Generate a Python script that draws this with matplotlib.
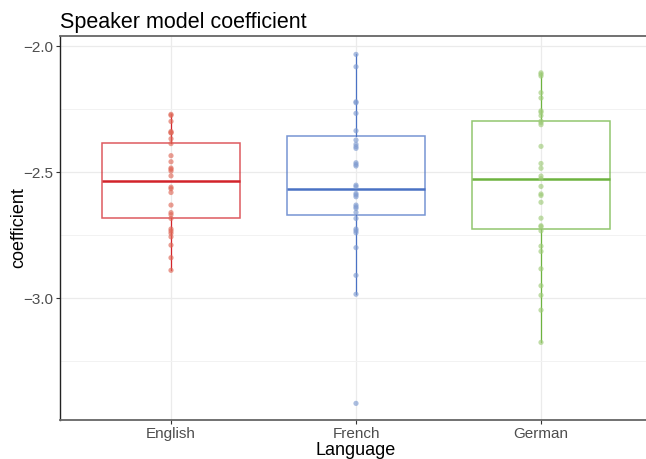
import matplotlib.pyplot as plt
import numpy as np

languages = ["English", "French", "German"]

english = [-2.271, -2.275, -2.299, -2.339, -2.343, -2.345, -2.368, -2.387, -2.435,
           -2.459, -2.484, -2.489, -2.496, -2.515, -2.560, -2.566, -2.581, -2.631,
           -2.661, -2.669, -2.684, -2.726, -2.734, -2.743, -2.757, -2.790, -2.840,
           -2.890]
french = [-2.033, -2.082, -2.221, -2.225, -2.267, -2.336, -2.373, -2.390, -2.399,
          -2.406, -2.463, -2.470, -2.476, -2.552, -2.558, -2.585, -2.591, -2.598,
          -2.631, -2.638, -2.644, -2.660, -2.684, -2.726, -2.733, -2.741, -2.800,
          -2.910, -2.985, -3.418]
german = [-2.106, -2.112, -2.119, -2.185, -2.206, -2.257, -2.263, -2.276, -2.298,
          -2.304, -2.312, -2.398, -2.466, -2.485, -2.516, -2.526, -2.557, -2.587,
          -2.593, -2.620, -2.683, -2.713, -2.717, -2.733, -2.794, -2.815, -2.884,
          -2.951, -2.989, -3.048, -3.176]

# box summaries
box_q1 = [-2.681, -2.671, -2.727]
box_med = [-2.536, -2.566, -2.526]
box_q3 = [-2.386, -2.356, -2.298]
whisker_lo = [-2.890, -2.985, -3.176]
whisker_hi = [-2.271, -2.033, -2.106]

line_colors = ["#d2232a", "#4a72c4", "#6db33f"]
point_colors = ["#e06a5a", "#7f9bd0", "#a0cc7a"]

plt.rcParams["font.family"] = ["Liberation Sans", "DejaVu Sans"]

fig = plt.figure(figsize=(6.46, 4.59), dpi=100)
ax = fig.add_axes([60 / 646, 1 - 420 / 459, 592 / 646, 384 / 459])

data = [english, french, german]
positions = [1, 2, 3]

ax.set_ylim(-3.484, -1.960)
ax.set_xlim(0.4, 3.6)

# grid, ggplot-ish
ax.set_yticks([-3.0, -2.5, -2.0])
ax.set_yticks([-3.25, -2.75, -2.25], minor=True)
ax.set_xticks(positions)
ax.set_xticklabels(languages)
ax.yaxis.grid(True, which="major", color="#ebebeb", lw=0.9)
ax.yaxis.grid(True, which="minor", color="#f2f2f2", lw=0.7)
ax.xaxis.grid(True, which="major", color="#ebebeb", lw=0.9)
ax.set_axisbelow(True)

for i, (vals, pos) in enumerate(zip(data, positions)):
    stats = [{"q1": box_q1[i], "med": box_med[i], "q3": box_q3[i],
              "whislo": whisker_lo[i], "whishi": whisker_hi[i], "fliers": []}]
    bp = ax.bxp(stats, positions=[pos], widths=0.75, showcaps=False,
                showfliers=False, patch_artist=True, manage_ticks=False)
    c = line_colors[i]
    for b in bp["boxes"]:
        b.set_facecolor("none")
        b.set_edgecolor(c)
        b.set_alpha(0.75)
        b.set_linewidth(1.1)
    for w in bp["whiskers"]:
        w.set_color(c)
        w.set_linewidth(0.9)
    for m in bp["medians"]:
        m.set_color(c)
        m.set_linewidth(1.8)
    ax.scatter([pos] * len(vals), vals, s=14, color=point_colors[i], alpha=0.65,
               edgecolors="none", zorder=3)

for side in ["top", "bottom"]:
    ax.spines[side].set_color("#666666")
    ax.spines[side].set_linewidth(1.3)
ax.spines["left"].set_color("#222222")
ax.spines["left"].set_linewidth(1.0)
ax.spines["right"].set_visible(False)

ax.tick_params(axis="both", which="major", labelsize=11, labelcolor="#4d4d4d",
               color="#333333", length=3, width=0.8, pad=2)
ax.tick_params(axis="y", which="minor", length=0)
ax.set_yticklabels(["\u22123.0", "\u22122.5", "\u22122.0"])

ax.set_xlabel("Language", fontsize=13, labelpad=1)
ax.set_ylabel("coefficient", fontsize=13, labelpad=-3)
ax.set_title("Speaker model coefficient", fontsize=15.5, loc="left", pad=6)

fig.savefig("out.png", dpi=100)
